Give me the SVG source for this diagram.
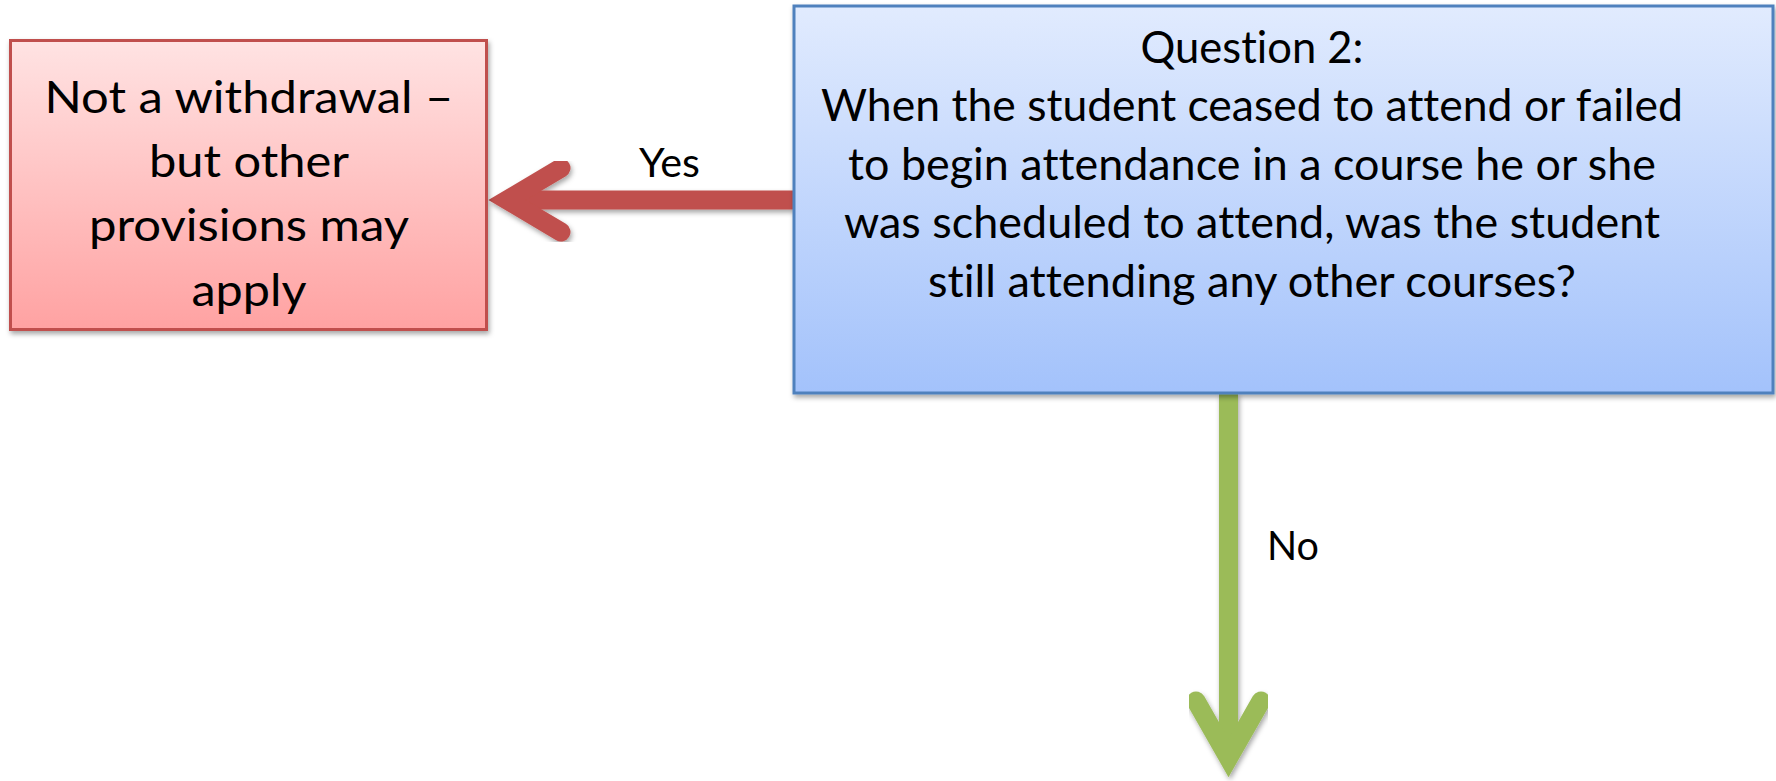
<svg xmlns="http://www.w3.org/2000/svg" width="1776" height="781" viewBox="0 0 1776 781">
  <defs>
    <linearGradient id="gRed" x1="0" y1="0" x2="0" y2="1">
      <stop offset="0" stop-color="#FFE3E3"/>
      <stop offset="1" stop-color="#FFA2A2"/>
    </linearGradient>
    <linearGradient id="gBlue" x1="0" y1="0" x2="0" y2="1">
      <stop offset="0" stop-color="#E1EBFE"/>
      <stop offset="1" stop-color="#A3C2FB"/>
    </linearGradient>
    <filter id="shadow" x="-10%" y="-10%" width="120%" height="125%">
      <feDropShadow dx="1.5" dy="3" stdDeviation="2.5" flood-color="#000" flood-opacity="0.35"/>
    </filter>
    <style>
      .txt { font-family: Lato, "Open Sans", "Liberation Sans", sans-serif; fill: #000; text-anchor: middle; font-variant-ligatures: none; font-feature-settings: "liga" 0, "dlig" 0; }
      .box { font-size: 44px; }
      .lbl { font-size: 40px; text-anchor: start; }
      .arrow { fill: none; stroke-linecap: round; stroke-linejoin: miter; stroke-miterlimit: 6; stroke-width: 19; }
      .shaft { fill: none; stroke-width: 19; stroke-linecap: butt; }
    </style>
  </defs>
  <rect width="1776" height="781" fill="#FFFFFF"/>

  <g id="connectors">
    <g id="edge-yes" filter="url(#shadow)">
      <line class="shaft" x1="525" y1="200" x2="794" y2="200" stroke="#C0504D"/>
      <polyline class="arrow" points="561,168 507,200 561,232" stroke="#C0504D"/>
    </g>
    <text class="txt lbl" x="639" y="177" textLength="61" lengthAdjust="spacingAndGlyphs">Yes</text>
    <g id="edge-no" filter="url(#shadow)">
      <line class="shaft" x1="1228.5" y1="393" x2="1228.5" y2="745" stroke="#9BBB59"/>
      <polyline class="arrow" points="1196,701 1228.5,758 1261,701" stroke="#9BBB59"/>
    </g>
    <text class="txt lbl" x="1267" y="560" textLength="52" lengthAdjust="spacingAndGlyphs">No</text>
  </g>

  <g id="node-not-withdrawal">
    <rect x="10.5" y="40.5" width="476" height="289" fill="url(#gRed)" stroke="#C0504D" stroke-width="3" filter="url(#shadow)"/>
    <text class="txt box" x="249" y="113" textLength="409" lengthAdjust="spacingAndGlyphs">Not a withdrawal –</text>
    <text class="txt box" x="249" y="177" textLength="200" lengthAdjust="spacingAndGlyphs">but other</text>
    <text class="txt box" x="249" y="241" textLength="320" lengthAdjust="spacingAndGlyphs">provisions may</text>
    <text class="txt box" x="249" y="306" textLength="115" lengthAdjust="spacingAndGlyphs">apply</text>
  </g>

  <g id="node-question2">
    <rect x="794" y="6" width="979" height="387" fill="url(#gBlue)" stroke="#4F81BD" stroke-width="3" filter="url(#shadow)"/>
    <text class="txt box" x="1252" y="63" textLength="223" lengthAdjust="spacingAndGlyphs">Question 2:</text>
    <text class="txt box" x="1252" y="121" textLength="862" lengthAdjust="spacingAndGlyphs">When the student ceased to attend or failed</text>
    <text class="txt box" x="1252" y="179.5" textLength="808" lengthAdjust="spacingAndGlyphs">to begin attendance in a course he or she</text>
    <text class="txt box" x="1252" y="238" textLength="816" lengthAdjust="spacingAndGlyphs">was scheduled to attend, was the student</text>
    <text class="txt box" x="1252" y="296.5" textLength="648" lengthAdjust="spacingAndGlyphs">still attending any other courses?</text>
  </g>
</svg>
